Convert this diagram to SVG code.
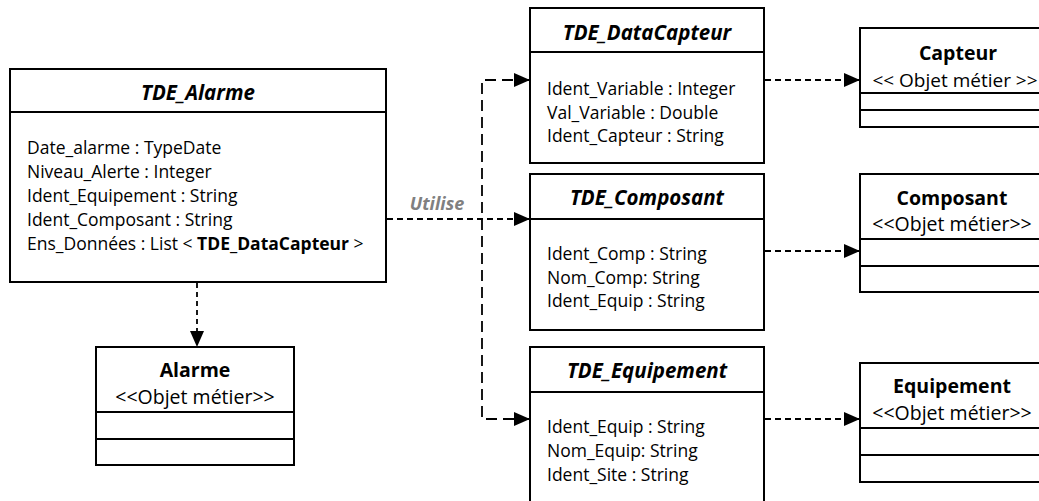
<svg xmlns="http://www.w3.org/2000/svg" width="1039" height="501" viewBox="0 0 1039 501">
<style>
.box{fill:#fff;stroke:#000;stroke-width:2}
.div{stroke:#000;stroke-width:2}
.t{font-family:"Open Sans","Liberation Sans",sans-serif;fill:#000}
.title{font-size:20.5px;font-weight:bold;font-style:italic;text-anchor:middle}
.name{font-size:19.5px;font-weight:bold;text-anchor:middle}
.stereo{font-size:19.5px;text-anchor:middle}
.attr{font-size:17.5px}
.conn{fill:none;stroke:#000;stroke-width:1.8}
.lbl{font-size:18px;font-weight:bold;font-style:italic;fill:#808080;text-anchor:middle}
</style>
<defs>
<marker id="arr" markerUnits="userSpaceOnUse" markerWidth="16" markerHeight="14" refX="16" refY="7" orient="auto-start-reverse">
<path d="M0,0 L16,7 L0,14 Z" fill="#000"/>
</marker>
</defs>

<g id="connectors">
<path class="conn" d="M197,283 V347" stroke-dasharray="5,4" marker-end="url(#arr)"/>
<path class="conn" d="M387,219 H530" stroke-dasharray="6,4" marker-end="url(#arr)"/>
<path class="conn" d="M530,80 H482 V419 H530" stroke-dasharray="11,6" marker-start="url(#arr)" marker-end="url(#arr)"/>
<path class="conn" d="M765,80 H860" stroke-dasharray="6,4" marker-end="url(#arr)"/>
<path class="conn" d="M765,251 H860" stroke-dasharray="6,4" marker-end="url(#arr)"/>
<path class="conn" d="M765,419 H860" stroke-dasharray="6,4" marker-end="url(#arr)"/>
<text class="t lbl" x="437" y="210">Utilise</text>
</g>

<g id="TDE_Alarme">
<rect class="box" x="10" y="69" width="376" height="213"/>
<line class="div" x1="10" y1="112" x2="386" y2="112"/>
<text class="t title" x="198" y="100">TDE_Alarme</text>
<text class="t attr" x="27" y="154">Date_alarme : TypeDate</text>
<text class="t attr" x="27" y="178">Niveau_Alerte : Integer</text>
<text class="t attr" x="27" y="202">Ident_Equipement : String</text>
<text class="t attr" x="27" y="226">Ident_Composant : String</text>
<text class="t attr" x="27" y="250">Ens_Données : List &lt; <tspan font-weight="bold">TDE_DataCapteur</tspan> &gt;</text>
</g>

<g id="Alarme">
<rect class="box" x="96" y="347" width="198" height="118"/>
<line class="div" x1="96" y1="412" x2="294" y2="412"/>
<line class="div" x1="96" y1="439" x2="294" y2="439"/>
<text class="t name" x="195" y="377">Alarme</text>
<text class="t stereo" x="195" y="404">&lt;&lt;Objet métier&gt;&gt;</text>
</g>

<g id="TDE_DataCapteur">
<rect class="box" x="530" y="8" width="234" height="155"/>
<line class="div" x1="530" y1="52" x2="764" y2="52"/>
<text class="t title" x="647" y="40">TDE_DataCapteur</text>
<text class="t attr" x="547" y="95">Ident_Variable : Integer</text>
<text class="t attr" x="547" y="118.5">Val_Variable : Double</text>
<text class="t attr" x="547" y="142">Ident_Capteur : String</text>
</g>

<g id="TDE_Composant">
<rect class="box" x="530" y="174" width="234" height="156"/>
<line class="div" x1="530" y1="219" x2="764" y2="219"/>
<text class="t title" x="647" y="205">TDE_Composant</text>
<text class="t attr" x="547" y="260">Ident_Comp : String</text>
<text class="t attr" x="547" y="284">Nom_Comp: String</text>
<text class="t attr" x="547" y="307">Ident_Equip : String</text>
</g>

<g id="TDE_Equipement">
<rect class="box" x="530" y="347" width="234" height="170"/>
<line class="div" x1="530" y1="392" x2="764" y2="392"/>
<text class="t title" x="647" y="378">TDE_Equipement</text>
<text class="t attr" x="547" y="433">Ident_Equip : String</text>
<text class="t attr" x="547" y="457">Nom_Equip: String</text>
<text class="t attr" x="547" y="481">Ident_Site : String</text>
</g>

<g id="Capteur">
<rect class="box" x="860" y="28" width="200" height="99"/>
<line class="div" x1="860" y1="93" x2="1060" y2="93"/>
<line class="div" x1="860" y1="110" x2="1060" y2="110"/>
<text class="t name" x="958" y="60">Capteur</text>
<text class="t stereo" x="955" y="87" style="font-size:19px">&lt;&lt; Objet métier &gt;&gt;</text>
</g>

<g id="Composant">
<rect class="box" x="860" y="174" width="190" height="118"/>
<line class="div" x1="860" y1="239" x2="1050" y2="239"/>
<line class="div" x1="860" y1="266" x2="1050" y2="266"/>
<text class="t name" x="952" y="205">Composant</text>
<text class="t stereo" x="952" y="231">&lt;&lt;Objet métier&gt;&gt;</text>
</g>

<g id="Equipement">
<rect class="box" x="860" y="363" width="190" height="119"/>
<line class="div" x1="860" y1="428" x2="1050" y2="428"/>
<line class="div" x1="860" y1="455" x2="1050" y2="455"/>
<text class="t name" x="952" y="393">Equipement</text>
<text class="t stereo" x="952" y="420">&lt;&lt;Objet métier&gt;&gt;</text>
</g>
</svg>
